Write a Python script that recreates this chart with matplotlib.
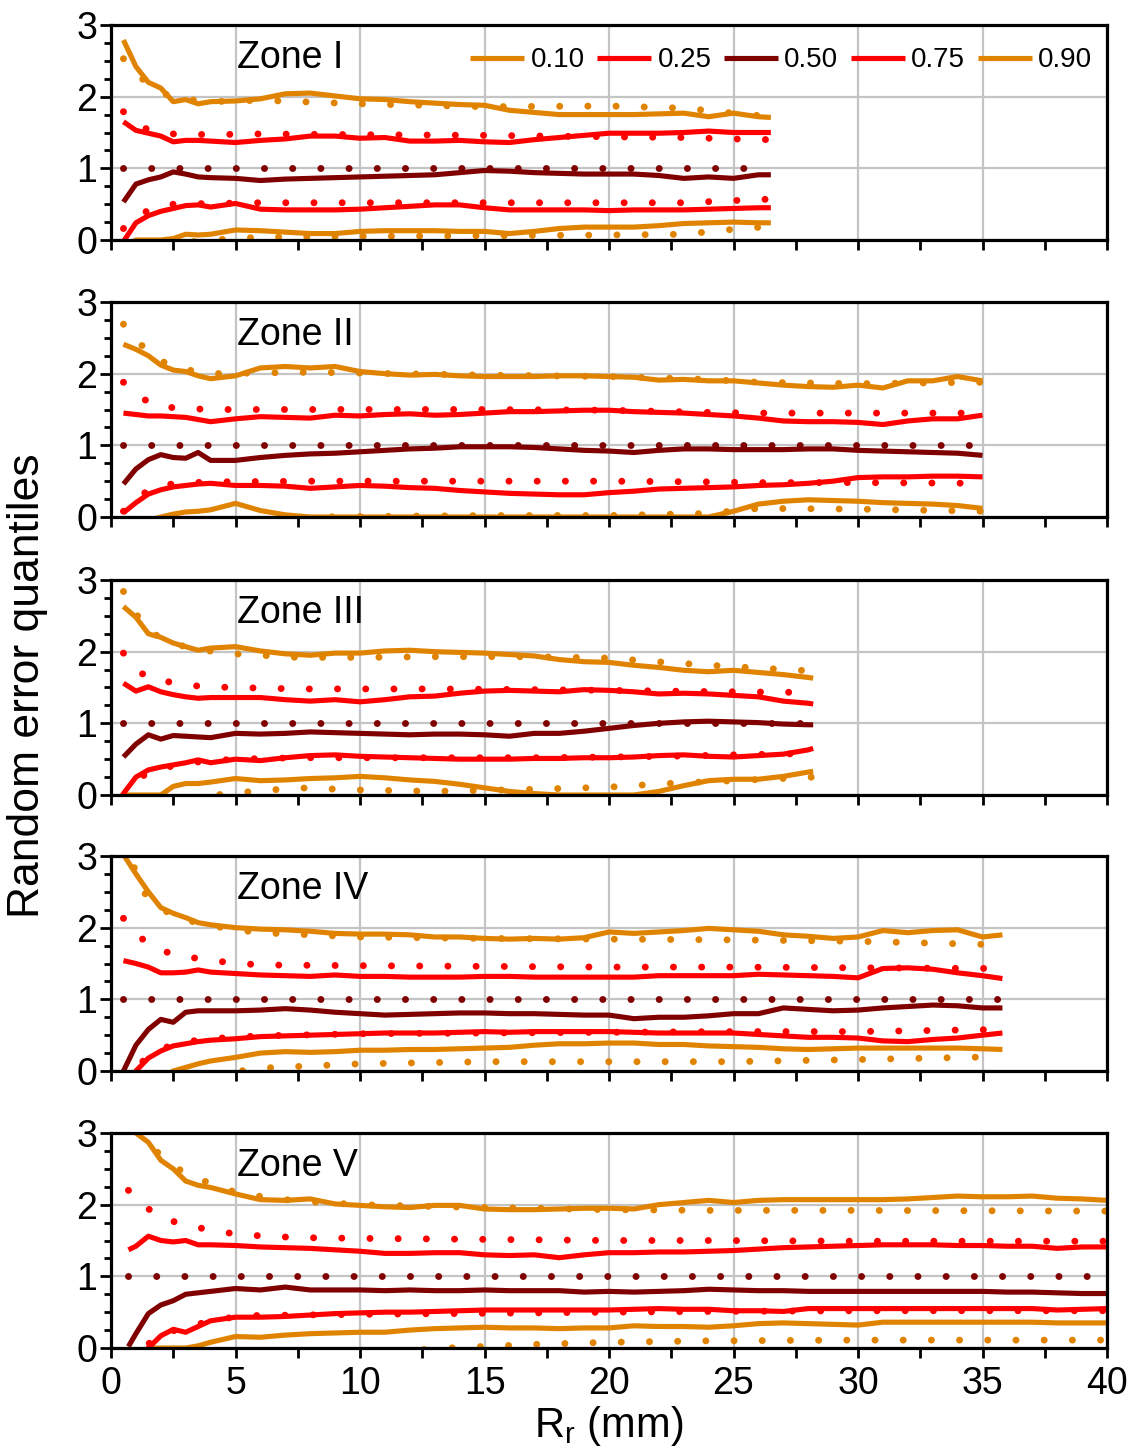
import matplotlib
matplotlib.use("Agg")
import matplotlib.pyplot as plt
from matplotlib.ticker import MultipleLocator

plt.rcParams['font.family'] = ['Liberation Sans', 'DejaVu Sans']

# ---------------- data ----------------
quantile_labels = ['0.10', '0.25', '0.50', '0.75', '0.90']
zone_names = ['Zone I', 'Zone II', 'Zone III', 'Zone IV', 'Zone V']

# Zone I
x_z1 = [0.5, 1, 1.5, 2, 2.5, 3, 3.5, 4, 5, 6, 7, 8, 9, 10, 11, 12, 13, 14, 15, 16, 17, 18, 19, 20,
        21, 22, 23, 24, 25, 26, 26.5]
q10_z1 = [-0.1, 0.0, 0.0, 0.0, 0.02, 0.08, 0.07, 0.08, 0.14, 0.13, 0.11, 0.09, 0.09, 0.12, 0.13, 0.13,
          0.13, 0.12, 0.12, 0.09, 0.12, 0.16, 0.18, 0.18, 0.18, 0.2, 0.23, 0.24, 0.25, 0.24, 0.24]
q25_z1 = [-0.02, 0.24, 0.34, 0.4, 0.44, 0.48, 0.49, 0.46, 0.51, 0.43, 0.42, 0.42, 0.42, 0.43, 0.45,
          0.47, 0.49, 0.49, 0.45, 0.42, 0.42, 0.42, 0.42, 0.41, 0.42, 0.42, 0.42, 0.43, 0.44, 0.45, 0.45]
q50_z1 = [0.53, 0.78, 0.84, 0.88, 0.95, 0.92, 0.88, 0.87, 0.86, 0.83, 0.85, 0.86, 0.87, 0.88, 0.89,
          0.9, 0.91, 0.94, 0.97, 0.96, 0.94, 0.93, 0.92, 0.92, 0.92, 0.9, 0.86, 0.88, 0.86, 0.91, 0.91]
q75_z1 = [1.65, 1.53, 1.49, 1.45, 1.37, 1.39, 1.39, 1.38, 1.36, 1.39, 1.41, 1.45, 1.45, 1.42, 1.43,
          1.38, 1.38, 1.39, 1.37, 1.36, 1.4, 1.43, 1.46, 1.49, 1.49, 1.49, 1.5, 1.52, 1.5, 1.5, 1.5]
q90_z1 = [2.79, 2.42, 2.2, 2.12, 1.93, 1.96, 1.9, 1.93, 1.94, 1.97, 2.04, 2.05, 2.01, 1.97, 1.96,
          1.93, 1.91, 1.89, 1.88, 1.81, 1.78, 1.75, 1.75, 1.75, 1.75, 1.76, 1.77, 1.72, 1.77, 1.72, 1.71]
xr_z1 = [0.5, 1.5, 2.5, 4, 6, 10, 15, 20, 23, 25, 26.5]
r10_z1 = [-0.6, -0.3, -0.05, 0.0, 0.04, 0.05, 0.06, 0.07, 0.08, 0.15, 0.19]
r25_z1 = [0.16, 0.42, 0.5, 0.51, 0.52, 0.52, 0.52, 0.52, 0.52, 0.55, 0.57]
r50_z1 = [1.0, 1.0, 1.0, 1.0, 1.0, 1.0, 1.0, 1.0, 1.0, 1.0, 1.0]
r75_z1 = [1.79, 1.53, 1.48, 1.47, 1.48, 1.47, 1.46, 1.44, 1.43, 1.41, 1.4]
r90_z1 = [2.53, 2.16, 1.98, 1.93, 1.95, 1.9, 1.86, 1.87, 1.84, 1.77, 1.72]

# Zone II
x_z2 = [0.5, 1, 1.5, 2, 2.5, 3, 3.5, 4, 5, 6, 7, 8, 9, 10, 11, 12, 13, 14, 15, 16, 17, 18, 19, 20,
        21, 22, 23, 24, 25, 26, 27, 28, 29, 30, 31, 32, 33, 34, 35]
q10_z2 = [-0.2, -0.1, -0.05, 0.0, 0.04, 0.07, 0.08, 0.1, 0.19, 0.09, 0.03, 0.0, 0.0, 0.0, 0.0, 0.0,
          0.0, 0.0, 0.0, 0.0, 0.0, 0.0, 0.0, 0.0, 0.0, 0.0, 0.0, 0.0, 0.08, 0.18, 0.22, 0.24, 0.23,
          0.22, 0.2, 0.19, 0.18, 0.16, 0.12]
q25_z2 = [0.06, 0.2, 0.32, 0.38, 0.42, 0.44, 0.46, 0.47, 0.44, 0.44, 0.43, 0.4, 0.42, 0.44, 0.43,
          0.41, 0.4, 0.37, 0.35, 0.33, 0.32, 0.31, 0.31, 0.34, 0.36, 0.39, 0.4, 0.41, 0.42, 0.44,
          0.45, 0.47, 0.5, 0.55, 0.56, 0.56, 0.57, 0.57, 0.56]
q50_z2 = [0.46, 0.67, 0.8, 0.87, 0.83, 0.82, 0.9, 0.79, 0.79, 0.83, 0.86, 0.88, 0.89, 0.91, 0.93,
          0.95, 0.96, 0.98, 0.98, 0.98, 0.97, 0.95, 0.93, 0.92, 0.9, 0.93, 0.95, 0.95, 0.94, 0.94,
          0.94, 0.95, 0.95, 0.93, 0.92, 0.91, 0.9, 0.89, 0.86]
q75_z2 = [1.45, 1.43, 1.41, 1.41, 1.4, 1.39, 1.36, 1.33, 1.37, 1.4, 1.39, 1.38, 1.42, 1.41, 1.43,
          1.44, 1.42, 1.43, 1.45, 1.47, 1.47, 1.48, 1.49, 1.49, 1.47, 1.46, 1.45, 1.43, 1.41, 1.38,
          1.34, 1.33, 1.33, 1.32, 1.29, 1.34, 1.37, 1.37, 1.42]
q90_z2 = [2.41, 2.34, 2.25, 2.12, 2.05, 2.03, 1.97, 1.93, 1.97, 2.08, 2.1, 2.08, 2.1, 2.03, 2.0,
          1.98, 1.99, 1.97, 1.96, 1.96, 1.96, 1.97, 1.97, 1.96, 1.95, 1.91, 1.92, 1.9, 1.9, 1.87,
          1.84, 1.82, 1.81, 1.84, 1.8, 1.9, 1.9, 1.96, 1.9]
xr_z2 = [0.5, 1.6, 2.6, 4, 8, 15, 20, 24, 26, 30, 35]
r10_z2 = [-0.8, -0.4, -0.2, -0.1, 0.0, 0.02, 0.02, 0.05, 0.12, 0.11, 0.08]
r25_z2 = [0.08, 0.41, 0.47, 0.49, 0.5, 0.5, 0.5, 0.49, 0.48, 0.48, 0.47]
r50_z2 = [1.0, 1.0, 1.0, 1.0, 1.0, 1.0, 1.0, 1.0, 1.0, 1.0, 1.0]
r75_z2 = [1.88, 1.57, 1.52, 1.5, 1.5, 1.5, 1.49, 1.46, 1.45, 1.45, 1.45]
r90_z2 = [2.69, 2.25, 2.08, 2.0, 2.02, 1.98, 1.96, 1.92, 1.88, 1.86, 1.88]

# Zone III
x_z3 = [0.5, 1, 1.5, 2, 2.5, 3, 3.5, 4, 5, 6, 7, 8, 9, 10, 11, 12, 13, 14, 15, 16, 17, 18, 19, 20,
        21, 22, 23, 24, 25, 26, 27, 28, 28.2]
q10_z3 = [0.0, 0.0, 0.0, 0.0, 0.12, 0.16, 0.16, 0.18, 0.23, 0.2, 0.21, 0.23, 0.24, 0.26, 0.24, 0.21,
          0.19, 0.15, 0.1, 0.05, 0.02, 0.0, 0.0, 0.0, 0.0, 0.05, 0.13, 0.2, 0.22, 0.22, 0.26, 0.32, 0.33]
q25_z3 = [0.02, 0.25, 0.35, 0.39, 0.42, 0.45, 0.49, 0.45, 0.5, 0.48, 0.52, 0.55, 0.56, 0.54, 0.53,
          0.52, 0.51, 0.5, 0.5, 0.5, 0.51, 0.51, 0.52, 0.52, 0.53, 0.55, 0.56, 0.54, 0.53, 0.55, 0.57,
          0.63, 0.65]
q50_z3 = [0.53, 0.71, 0.84, 0.78, 0.83, 0.82, 0.81, 0.8, 0.86, 0.85, 0.86, 0.88, 0.87, 0.86, 0.85,
          0.84, 0.85, 0.85, 0.84, 0.82, 0.86, 0.86, 0.89, 0.93, 0.97, 1.0, 1.02, 1.03, 1.02, 1.01,
          0.99, 0.98, 0.98]
q75_z3 = [1.56, 1.45, 1.51, 1.44, 1.4, 1.37, 1.35, 1.36, 1.36, 1.36, 1.33, 1.31, 1.33, 1.3, 1.33,
          1.37, 1.38, 1.42, 1.45, 1.46, 1.45, 1.44, 1.47, 1.46, 1.44, 1.41, 1.42, 1.41, 1.39, 1.37,
          1.31, 1.28, 1.27]
q90_z3 = [2.63, 2.48, 2.25, 2.2, 2.12, 2.07, 2.02, 2.05, 2.07, 2.01, 1.97, 1.95, 1.98, 1.98, 2.01,
          2.02, 2.0, 1.99, 1.98, 1.96, 1.94, 1.89, 1.86, 1.85, 1.81, 1.78, 1.74, 1.72, 1.74, 1.71,
          1.68, 1.64, 1.63]
xr_z3 = [0.5, 1.4, 2.6, 3.7, 5, 7.5, 10, 13, 17, 20, 22.3, 25, 28.2]
r10_z3 = [-0.7, -0.35, -0.12, -0.02, 0.03, 0.1, 0.07, 0.05, 0.08, 0.11, 0.16, 0.2, 0.25]
r25_z3 = [0.0, 0.3, 0.42, 0.47, 0.5, 0.52, 0.52, 0.52, 0.52, 0.53, 0.54, 0.56, 0.58]
r50_z3 = [1.0, 1.0, 1.0, 1.0, 1.0, 1.0, 1.0, 1.0, 1.0, 1.0, 1.0, 1.0, 1.0]
r75_z3 = [1.98, 1.64, 1.56, 1.51, 1.5, 1.48, 1.48, 1.48, 1.47, 1.46, 1.45, 1.44, 1.43]
r90_z3 = [2.84, 2.3, 2.1, 2.02, 1.97, 1.92, 1.92, 1.93, 1.93, 1.91, 1.85, 1.79, 1.73]

# Zone IV
x_z4 = [0.5, 1, 1.5, 2, 2.5, 3, 3.5, 4, 5, 6, 7, 8, 9, 10, 11, 12, 13, 14, 15, 16, 17, 18, 19, 20,
        21, 22, 23, 24, 25, 26, 27, 28, 29, 30, 31, 32, 33, 34, 35, 35.8]
q10_z4 = [-0.8, -0.5, -0.3, -0.12, 0.0, 0.05, 0.1, 0.14, 0.19, 0.25, 0.27, 0.26, 0.27, 0.29, 0.29,
          0.3, 0.3, 0.31, 0.32, 0.33, 0.36, 0.38, 0.38, 0.39, 0.39, 0.37, 0.37, 0.35, 0.34, 0.33,
          0.31, 0.3, 0.31, 0.32, 0.32, 0.32, 0.32, 0.32, 0.31, 0.3]
q25_z4 = [-0.4, 0.0, 0.18, 0.28, 0.35, 0.38, 0.41, 0.43, 0.45, 0.48, 0.49, 0.5, 0.51, 0.52, 0.53,
          0.53, 0.53, 0.54, 0.55, 0.54, 0.55, 0.55, 0.55, 0.55, 0.54, 0.53, 0.53, 0.53, 0.53, 0.51,
          0.49, 0.47, 0.47, 0.46, 0.42, 0.41, 0.44, 0.46, 0.5, 0.53]
q50_z4 = [0.0, 0.36, 0.58, 0.72, 0.68, 0.82, 0.84, 0.84, 0.84, 0.85, 0.87, 0.85, 0.82, 0.8, 0.78,
          0.79, 0.8, 0.81, 0.81, 0.8, 0.8, 0.79, 0.78, 0.78, 0.73, 0.75, 0.75, 0.77, 0.8, 0.8, 0.88,
          0.86, 0.84, 0.85, 0.88, 0.9, 0.92, 0.91, 0.88, 0.88]
q75_z4 = [1.54, 1.5, 1.45, 1.37, 1.37, 1.38, 1.41, 1.38, 1.36, 1.34, 1.33, 1.32, 1.34, 1.32, 1.32,
          1.31, 1.31, 1.31, 1.32, 1.32, 1.31, 1.31, 1.31, 1.31, 1.31, 1.33, 1.33, 1.33, 1.33, 1.35,
          1.34, 1.33, 1.32, 1.3, 1.43, 1.44, 1.42, 1.37, 1.33, 1.29]
q90_z4 = [3.02, 2.75, 2.5, 2.28, 2.2, 2.14, 2.07, 2.04, 2.0, 1.98, 1.97, 1.95, 1.92, 1.91, 1.91,
          1.9, 1.87, 1.87, 1.85, 1.84, 1.85, 1.84, 1.86, 1.94, 1.92, 1.94, 1.96, 1.99, 1.97, 1.95,
          1.9, 1.88, 1.85, 1.87, 1.96, 1.93, 1.96, 1.97, 1.87, 1.9]
xr_z4 = [0.5, 1.4, 2.5, 3.7, 4.8, 6, 10, 15, 20, 25, 30, 35.8]
r10_z4 = [-0.9, -0.5, -0.25, -0.1, -0.02, 0.04, 0.1, 0.13, 0.13, 0.13, 0.16, 0.2]
r25_z4 = [-0.15, 0.18, 0.38, 0.44, 0.47, 0.49, 0.52, 0.53, 0.54, 0.55, 0.55, 0.58]
r50_z4 = [1.0, 1.0, 1.0, 1.0, 1.0, 1.0, 1.0, 1.0, 1.0, 1.0, 1.0, 1.0]
r75_z4 = [2.13, 1.79, 1.62, 1.56, 1.51, 1.48, 1.47, 1.46, 1.45, 1.45, 1.44, 1.43]
r90_z4 = [3.2, 2.45, 2.15, 2.05, 1.98, 1.93, 1.87, 1.85, 1.84, 1.83, 1.81, 1.76]

# Zone V
x_z5 = [0.7, 1, 1.5, 2, 2.5, 3, 3.5, 4, 5, 6, 7, 8, 9, 10, 11, 12, 13, 14, 15, 16, 17, 18, 19, 20,
        21, 22, 23, 24, 25, 26, 27, 28, 29, 30, 31, 32, 33, 34, 35, 36, 37, 38, 39, 40]
q10_z5 = [-0.6, -0.45, 0.0, 0.0, 0.0, 0.0, 0.03, 0.08, 0.16, 0.15, 0.18, 0.2, 0.21, 0.22, 0.22,
          0.25, 0.27, 0.28, 0.29, 0.28, 0.28, 0.27, 0.28, 0.28, 0.31, 0.3, 0.3, 0.29, 0.31, 0.34,
          0.35, 0.34, 0.33, 0.32, 0.36, 0.36, 0.36, 0.36, 0.36, 0.36, 0.36, 0.35, 0.35, 0.35]
q25_z5 = [-0.3, -0.15, 0.0, 0.17, 0.26, 0.22, 0.3, 0.38, 0.43, 0.43, 0.44, 0.46, 0.48, 0.49, 0.5,
          0.5, 0.51, 0.52, 0.53, 0.53, 0.53, 0.53, 0.53, 0.53, 0.54, 0.55, 0.54, 0.54, 0.52, 0.52,
          0.51, 0.55, 0.55, 0.55, 0.55, 0.55, 0.55, 0.55, 0.55, 0.55, 0.55, 0.53, 0.54, 0.55]
q50_z5 = [0.02, 0.2, 0.48, 0.6, 0.66, 0.75, 0.77, 0.79, 0.83, 0.81, 0.85, 0.81, 0.81, 0.81, 0.8,
          0.81, 0.8, 0.8, 0.81, 0.8, 0.8, 0.8, 0.78, 0.79, 0.78, 0.79, 0.8, 0.82, 0.81, 0.8, 0.8,
          0.79, 0.79, 0.79, 0.79, 0.79, 0.79, 0.79, 0.79, 0.78, 0.78, 0.77, 0.76, 0.76]
q75_z5 = [1.37, 1.42, 1.56, 1.5, 1.48, 1.5, 1.44, 1.44, 1.43, 1.41, 1.4, 1.39, 1.37, 1.35, 1.32,
          1.32, 1.33, 1.33, 1.3, 1.29, 1.3, 1.26, 1.3, 1.33, 1.33, 1.34, 1.34, 1.35, 1.36, 1.38,
          1.4, 1.41, 1.42, 1.43, 1.44, 1.44, 1.44, 1.43, 1.43, 1.42, 1.42, 1.39, 1.41, 1.41]
q90_z5 = [3.05, 3.0, 2.87, 2.62, 2.5, 2.33, 2.27, 2.24, 2.15, 2.07, 2.06, 2.08, 2.01, 1.99, 1.97,
          1.96, 1.99, 1.99, 1.94, 1.93, 1.93, 1.94, 1.95, 1.95, 1.94, 2.0, 2.03, 2.06, 2.03, 2.06,
          2.07, 2.07, 2.07, 2.07, 2.07, 2.08, 2.1, 2.12, 2.11, 2.11, 2.12, 2.09, 2.08, 2.06]
xr_z5 = [0.7, 1.8, 2.9, 4.1, 5.2, 7.5, 10, 13.5, 17, 20, 24, 30, 40]
r10_z5 = [-1.0, -0.7, -0.5, -0.35, -0.25, -0.15, -0.08, 0.0, 0.05, 0.08, 0.1, 0.11, 0.11]
r25_z5 = [-0.2, 0.15, 0.29, 0.38, 0.45, 0.46, 0.47, 0.48, 0.49, 0.5, 0.51, 0.52, 0.52]
r50_z5 = [1.0, 1.0, 1.0, 1.0, 1.0, 1.0, 1.0, 1.0, 1.0, 1.0, 1.0, 1.0, 1.0]
r75_z5 = [2.2, 1.85, 1.72, 1.64, 1.58, 1.54, 1.53, 1.52, 1.51, 1.5, 1.5, 1.49, 1.49]
r90_z5 = [3.4, 2.75, 2.45, 2.28, 2.15, 2.05, 2.0, 1.97, 1.95, 1.93, 1.92, 1.92, 1.91]

zones = [
    (x_z1, [q10_z1, q25_z1, q50_z1, q75_z1, q90_z1], xr_z1, [r10_z1, r25_z1, r50_z1, r75_z1, r90_z1]),
    (x_z2, [q10_z2, q25_z2, q50_z2, q75_z2, q90_z2], xr_z2, [r10_z2, r25_z2, r50_z2, r75_z2, r90_z2]),
    (x_z3, [q10_z3, q25_z3, q50_z3, q75_z3, q90_z3], xr_z3, [r10_z3, r25_z3, r50_z3, r75_z3, r90_z3]),
    (x_z4, [q10_z4, q25_z4, q50_z4, q75_z4, q90_z4], xr_z4, [r10_z4, r25_z4, r50_z4, r75_z4, r90_z4]),
    (x_z5, [q10_z5, q25_z5, q50_z5, q75_z5, q90_z5], xr_z5, [r10_z5, r25_z5, r50_z5, r75_z5, r90_z5]),
]

# ---------------- style ----------------
ORANGE = '#E08300'
RED = '#FF0000'
DARKRED = '#800000'
colors = [ORANGE, RED, DARKRED, RED, ORANGE]

W, H = 1133, 1456
fig = plt.figure(figsize=(W / 100, H / 100), dpi=100)

left_px, right_px = 111, 1107
bottoms_px = [240, 517, 795, 1071, 1348]
panel_h = 215

axes = []
for i, (xs, qs, xr, rs) in enumerate(zones):
    b = bottoms_px[i]
    ax = fig.add_axes([left_px / W, 1 - b / H, (right_px - left_px) / W, panel_h / H])
    axes.append(ax)
    ax.set_xlim(0, 40)
    ax.set_ylim(0, 3)
    ax.xaxis.set_major_locator(MultipleLocator(5))
    ax.xaxis.set_minor_locator(MultipleLocator(2.5))
    ax.yaxis.set_major_locator(MultipleLocator(1))
    ax.yaxis.set_minor_locator(MultipleLocator(0.25))
    ax.grid(True, which='major', color='#C4C4C4', linewidth=1.6, zorder=0)
    ax.set_axisbelow(True)
    for sp in ax.spines.values():
        sp.set_linewidth(2.3)
        sp.set_zorder(5)
    ax.tick_params(axis='x', which='both', direction='out', length=7, width=2, labelsize=27, pad=6)
    ax.tick_params(axis='y', which='major', direction='out', length=8, width=2, labelsize=27, pad=2)
    ax.tick_params(axis='y', which='minor', direction='out', length=5, width=2)
    ax.set_yticks([0, 1, 2, 3])
    ax.set_yticklabels(['0', '1', '2', '3'])
    if i < 4:
        ax.tick_params(axis='x', labelbottom=False)

    # reference (dotted) curves
    for c, r in zip(colors, rs):
        ax.plot(xr, r, color=c, linewidth=5.0, linestyle=(0, (0.01, 4.05)),
                dash_capstyle='round', zorder=2)
    # estimated quantiles (solid)
    handles = []
    for c, q, lab in zip(colors, qs, quantile_labels):
        h, = ax.plot(xs, q, color=c, linewidth=3.7, solid_capstyle='butt',
                     solid_joinstyle='round', zorder=3, label=lab)
        handles.append(h)

    ax.text(5.05, 2.4, zone_names[i], fontsize=27, va='baseline', ha='left', zorder=6)

    if i == 0:
        ax.legend(handles=handles, labels=quantile_labels, loc='center right',
                  bbox_to_anchor=(0.985, 0.835), ncol=5, frameon=False, fontsize=20,
                  handlelength=1.95, handletextpad=0.22, columnspacing=0.45,
                  borderaxespad=0.0, borderpad=0.0)

axes[-1].set_xticks([0, 5, 10, 15, 20, 25, 30, 35, 40])
axes[-1].set_xticklabels(['0', '5', '10', '15', '20', '25', '30', '35', '40'])

fig.text(28 / W, 1 - 686 / H, 'Random error quantiles', rotation=90, fontsize=32,
         ha='center', va='center')
fig.text(609 / W, 1 - 1437 / H, r'R$_\mathregular{r}$ (mm)', fontsize=30,
         ha='center', va='baseline')

fig.savefig('out.png', dpi=100)
